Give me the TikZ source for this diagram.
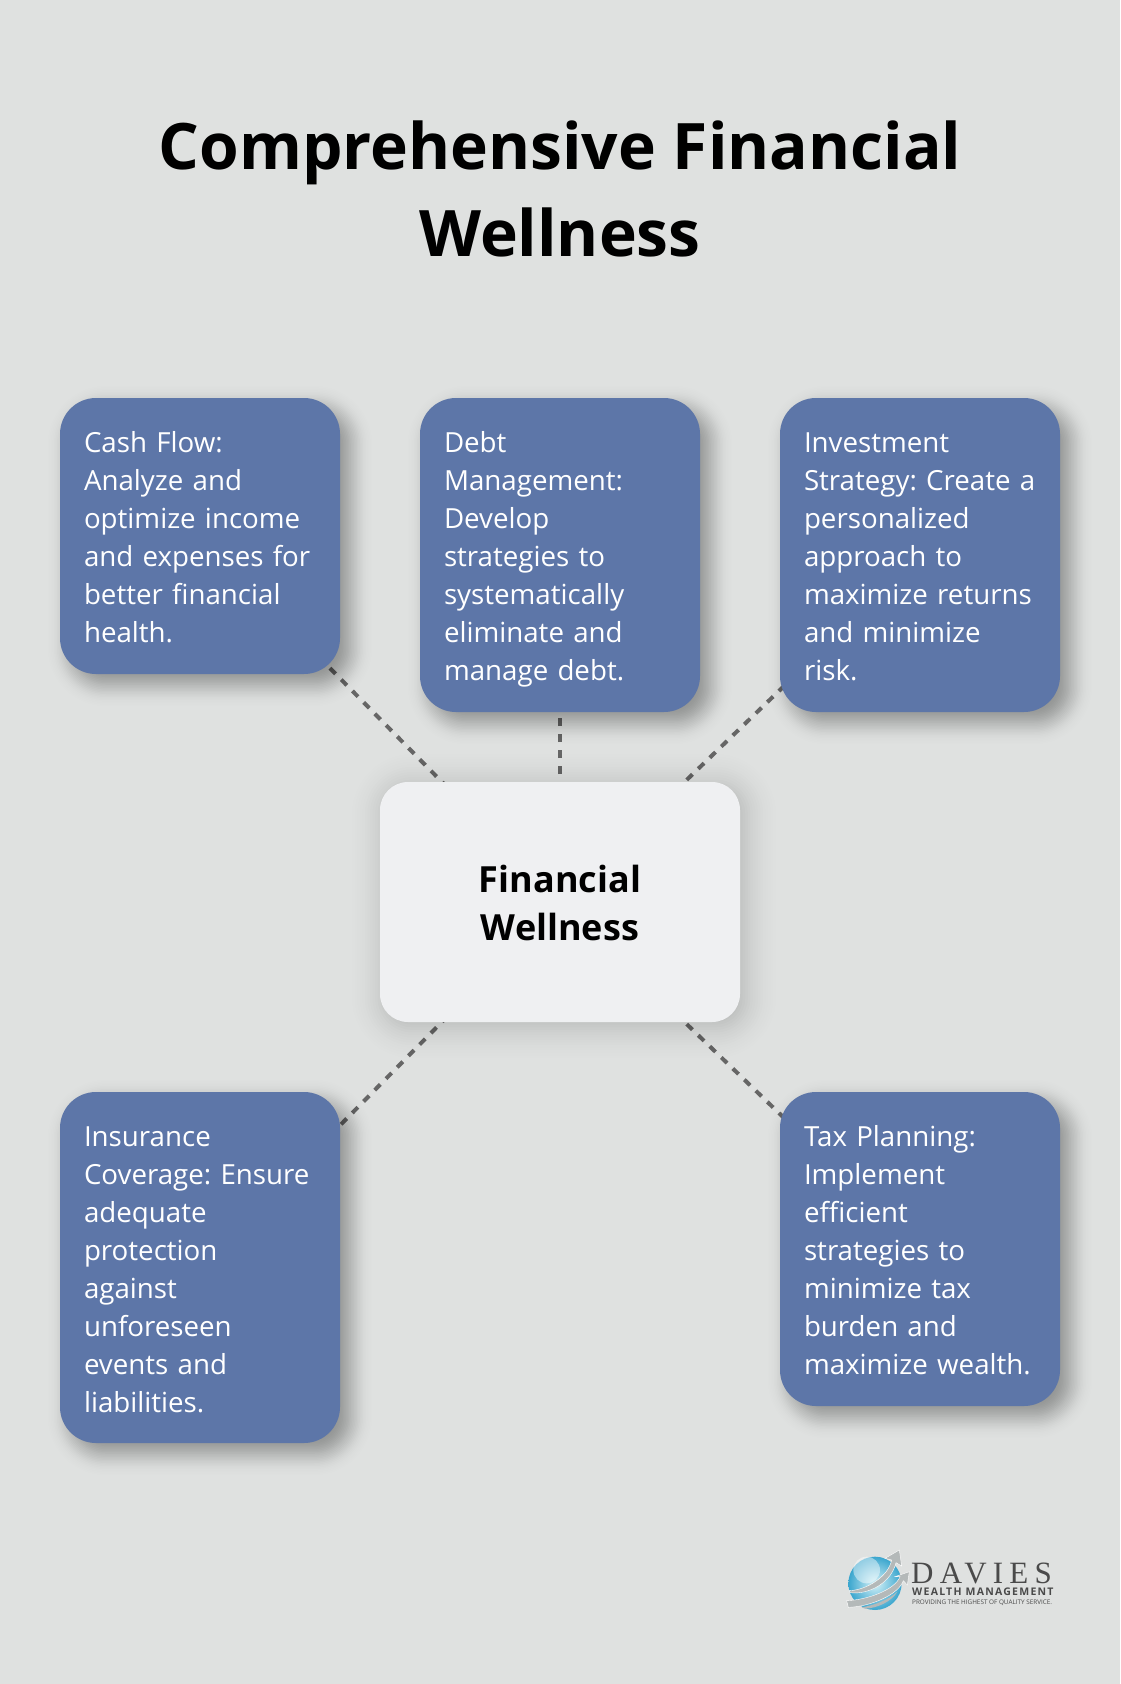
\documentclass[tikz,border=0pt]{standalone}
\usepackage{fontspec}
\setmainfont{Open Sans}
\newfontfamily\logoserif[LetterSpace=20]{Liberation Serif}
\newfontfamily\logosans[LetterSpace=12]{Open Sans}
\definecolor{bgc}{HTML}{DFE1E0}
\definecolor{bluebox}{HTML}{5D76A8}
\definecolor{hubc}{HTML}{EFF0F2}
\definecolor{dashc}{HTML}{666666}
\definecolor{logoc}{HTML}{4A4A4A}
\definecolor{globein}{HTML}{D5F2F8}
\definecolor{globeout}{HTML}{3BA6CE}
\definecolor{swoosh}{HTML}{B4B9B9}
\tikzset{
  card/.style={fill=bluebox,text=white,rounded corners=36pt,minimum width=280pt,inner xsep=16pt,inner ysep=0pt,
    text width=248pt,align=left,font=\frenchspacing\fontsize{27.7}{38}\selectfont,
    execute at begin node={\leftskip=8pt\relax\rule{0pt}{30.5pt}},
    execute at end node={\rule[-7.5pt]{0pt}{7.5pt}}},
  hub/.style={fill=hubc,text=black,rounded corners=28pt,minimum width=360pt,minimum height=240pt,
    align=center,font=\frenchspacing\fontsize{36}{48}\selectfont\bfseries},
  heading/.style={align=center,font=\fontsize{64.1}{87}\selectfont\bfseries,text=black},
  link/.style={draw=dashc,line width=4pt,dash pattern=on 8pt off 8pt}
}
% soft shadow: x1 y1 x2 y2 radius spread peak-opacity; gaussian-weighted layers
\newcommand{\softbox}[7]{%
  \foreach \k in {0,...,39}{%
    \pgfmathsetmacro{\t}{1-\k/19.5}%
    \pgfmathsetmacro{\d}{#6*\t}%
    \pgfmathsetmacro{\rr}{max(#5+\d,2)}%
    \pgfmathsetmacro{\op}{#7*exp(-4*\t*\t)}%
    \fill[black,opacity=\op,rounded corners=\rr pt] (#1-\d,#2-\d) rectangle (#3+\d,#4+\d);%
  }%
}
\begin{document}
\begin{tikzpicture}[x=1pt,y=-1pt]
\useasboundingbox (0,0) rectangle (1120,1684);
\fill[bgc] (0,0) rectangle (1120,1684);

\coordinate (hubc) at (560,902);
\coordinate (cashc) at (200,536);
\coordinate (debtc) at (560,555);
\coordinate (invc) at (920,555);
\coordinate (insc) at (200,1267.5);
\coordinate (taxc) at (920,1249);
\draw[link] (hubc) -- (cashc);
\draw[link] (hubc) -- (debtc);
\draw[link] (hubc) -- (invc);
\draw[link] (hubc) -- (insc);
\draw[link] (hubc) -- (taxc);

\softbox{70}{408}{350}{684}{36}{30}{0.022}
\softbox{430}{408}{710}{722}{36}{30}{0.022}
\softbox{790}{408}{1070}{722}{36}{30}{0.022}
\softbox{70}{1102}{350}{1453}{36}{30}{0.022}
\softbox{790}{1102}{1070}{1416}{36}{30}{0.022}
\softbox{384}{786}{744}{1026}{28}{50}{0.011}

\node[heading] (title) at (560,189) {Comprehensive Financial\\Wellness};

\node[card,minimum height=276pt] (cash) at (cashc) {Cash Flow:\\Analyze and\\optimize income\\and expenses for\\better financial\\health.};
\node[card,minimum height=314pt] (debt) at (debtc) {Debt\\Management:\\Develop\\strategies to\\systematically\\eliminate and\\manage debt.};
\node[card,minimum height=314pt] (inv) at (invc) {Investment\\Strategy: Create a\\personalized\\approach to\\maximize returns\\and minimize\\risk.};
\node[card,minimum height=351pt] (ins) at (insc) {Insurance\\Coverage: Ensure\\adequate\\protection\\against\\unforeseen\\events and\\liabilities.};
\node[card,minimum height=314pt] (tax) at (taxc) {Tax Planning:\\Implement\\efficient\\strategies to\\minimize tax\\burden and\\maximize wealth.};
\node[hub] (hubn) at (hubc) {\rule{0pt}{30pt}Financial\\Wellness};

% logo
\begin{scope}[shift={(820,1530)},x=0.3333pt,y=-0.3333pt]
  \shade[inner color=globein,outer color=globeout] (165,160) circle (80);
  \fill[white,opacity=.45] (140,120) circle (40);
  \fill[swoosh,draw=white,line width=.4pt] (88,182) .. controls (140,180) and (205,140) .. (215,90) -- (195,85) -- (238,60) -- (245,108) -- (228,98) .. controls (215,155) and (150,195) .. (90,188) -- cycle;
  \fill[swoosh,draw=white,line width=.4pt] (80,212) .. controls (140,210) and (225,180) .. (240,140) -- (225,140) -- (268,125) -- (262,165) -- (250,152) .. controls (235,195) and (150,230) .. (85,232) -- cycle;
  \fill[swoosh] (125,232) .. controls (165,225) and (205,210) .. (232,185) .. controls (215,215) and (170,235) .. (135,236) -- cycle;
\end{scope}
\node[anchor=base west,inner sep=0pt,text=logoc,font=\logoserif\fontsize{31}{31}\selectfont] (davies) at (911,1583) {DAVIES};
\node[anchor=base west,inner sep=0pt,text=logoc,font=\logosans\bfseries\fontsize{10.5}{11}\selectfont] (wealth) at (912,1595) {WEALTH MANAGEMENT};
\node[anchor=base west,inner sep=0pt,text=logoc,font=\fontsize{6.35}{7}\selectfont] (tagline) at (912,1604) {PROVIDING THE HIGHEST OF QUALITY SERVICE.};
\end{tikzpicture}
\end{document}
